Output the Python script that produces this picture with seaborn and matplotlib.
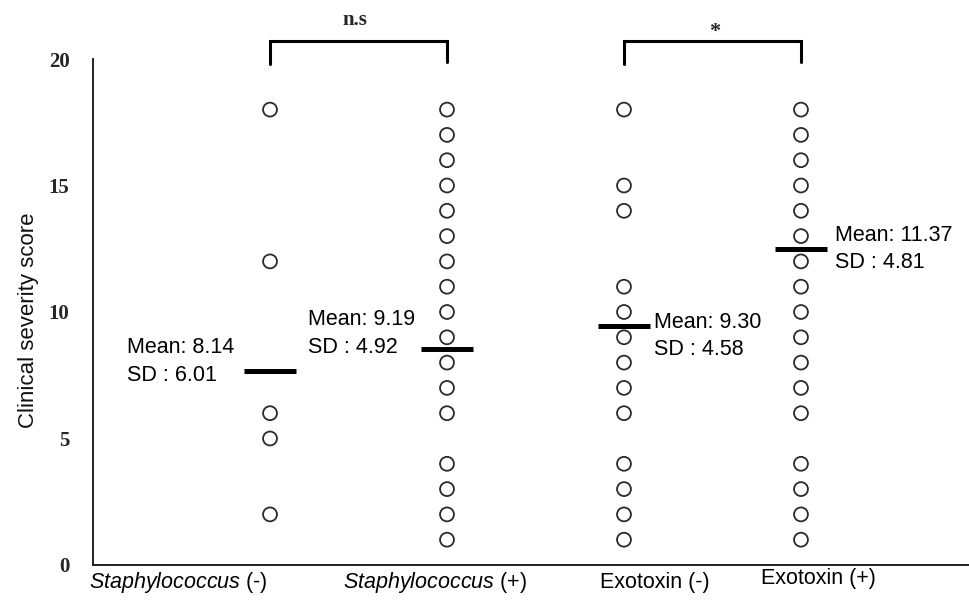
import numpy as np
import pandas as pd
import matplotlib
matplotlib.use("Agg")
import matplotlib.pyplot as plt
import seaborn as sns

# ---- data ----
groups = ["Staphylococcus (-)", "Staphylococcus (+)", "Exotoxin (-)", "Exotoxin (+)"]
staph_neg = [18, 12, 6, 5, 2]
staph_pos = [18, 17, 16, 15, 14, 13, 12, 11, 10, 9, 8, 7, 6, 4, 3, 2, 1]
exo_neg = [18, 15, 14, 11, 10, 9, 8, 7, 6, 4, 3, 2, 1]
exo_pos = [18, 17, 16, 15, 14, 13, 12, 11, 10, 9, 8, 7, 6, 4, 3, 2, 1]
mean_bar = [7.65, 8.55, 9.45, 12.5]
mean_text = ["Mean: 8.14", "Mean: 9.19", "Mean: 9.30", "Mean: 11.37"]
sd_text = ["SD : 6.01", "SD : 4.92", "SD : 4.58", "SD : 4.81"]
tick_labels = [r"$\it{Staphylococcus}$ (-)", r"$\it{Staphylococcus}$ (+)",
               "Exotoxin (-)", "Exotoxin (+)"]
y_ticks = [0, 5, 10, 15, 20]
y_label = "Clinical severity score"
sig_labels = ["n.s", "*"]

df = pd.concat([
    pd.DataFrame({"group": groups[0], "score": staph_neg}),
    pd.DataFrame({"group": groups[1], "score": staph_pos}),
    pd.DataFrame({"group": groups[2], "score": exo_neg}),
    pd.DataFrame({"group": groups[3], "score": exo_pos}),
], ignore_index=True)

sns.set_style("white")
plt.rcParams["font.family"] = ["Liberation Sans", "DejaVu Sans"]
plt.rcParams["mathtext.fontset"] = "custom"
plt.rcParams["mathtext.it"] = "Liberation Sans:italic"
plt.rcParams["mathtext.rm"] = "Liberation Sans"

fig = plt.figure(figsize=(9.7, 6.07), dpi=100)
ax = fig.add_axes([0.0959, 0.0692, 0.9041, 0.8336])

sns.stripplot(data=df, x="group", y="score", order=groups, jitter=False,
              size=10, marker="o", facecolor="none", edgecolor="#2a2a2a",
              linewidth=1.3, color="#2a2a2a", ax=ax, zorder=3)

pos = np.arange(len(groups))
ax.hlines(mean_bar, pos - 0.145, pos + 0.145, colors="black", linewidth=3.6, zorder=4)

# mean / sd annotations
ann_x = [-0.81, 0.215, 2.17, 3.19]
ann_y = [8.04, 9.15, 9.05, 12.49]
for x, y, m, s in zip(ann_x, ann_y, mean_text, sd_text):
    ax.text(x, y, m + "\n" + s, ha="left", va="center", fontsize=15.5,
            color="black", linespacing=1.4)

ax.set_xlim(-1.0, 3.955)
ax.set_ylim(0, 20)
ax.set_yticks(y_ticks)
ax.set_yticklabels([str(t) for t in y_ticks], family=["Liberation Serif", "DejaVu Serif"],
                   fontweight="bold", fontsize=15)
ax.set_xticks(pos)
ax.set_xticklabels([""] * len(groups))
label_off = [-0.52, -0.068, 0.175, 0.096]
label_y = [-0.034, -0.034, -0.034, -0.027]
for p, off, ly, lab in zip(pos, label_off, label_y, tick_labels):
    ax.text(p + off, ly, lab, transform=ax.get_xaxis_transform(), ha="center",
            va="center", fontsize=15.5, color="black")

ax.set_xlabel("")
ax.set_ylabel(y_label, fontsize=16, color="#111111")
ax.yaxis.set_label_coords(-0.0616, 0.484)

for side in ["top", "right"]:
    ax.spines[side].set_visible(False)
for side in ["left", "bottom"]:
    ax.spines[side].set_color("#222222")
    ax.spines[side].set_linewidth(1.4)
ax.tick_params(axis="y", direction="inout", length=10, width=1.2, color="#222222", pad=12)
ax.tick_params(axis="x", direction="in", length=5, width=1.0, color="#222222")

# significance brackets
for (a, b), lab, ty, fs, fx in zip([(0, 1), (2, 3)], sig_labels, [21.55, 21.05], [15, 16], [0.48, 0.51]):
    ax.plot([a, a, b, b], [19.8, 20.7, 20.7, 19.9], color="black", lw=2.2,
            clip_on=False, solid_joinstyle="miter")
    ax.text(a + (b - a) * fx, ty, lab, ha="center", va="center",
            fontsize=fs, fontweight="bold", family=["Liberation Serif", "DejaVu Serif"])

fig.savefig("out.png", dpi=100)
